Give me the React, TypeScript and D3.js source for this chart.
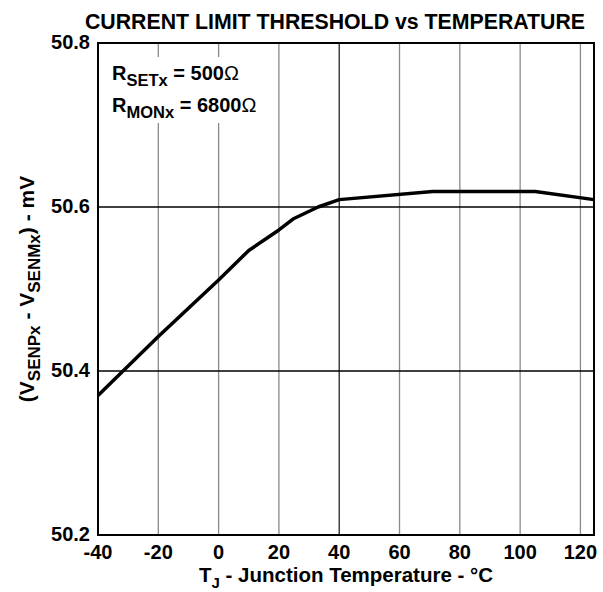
import React, { useEffect, useRef } from 'react';
import * as d3 from 'd3';

// T_J in °C
const temps = [-40, -20, 0, 10, 20, 25, 33, 40, 71, 105, 124.5];
// threshold in mV
const threshold = [50.37, 50.442, 50.511, 50.547, 50.572, 50.586, 50.6, 50.609, 50.619, 50.619, 50.609];

const xTicks = [-40, -20, 0, 20, 40, 60, 80, 100, 120];
const yTicks = [50.2, 50.4, 50.6, 50.8];

const FONT = "'Liberation Sans', Arial, Helvetica, sans-serif";

const App: React.FC = () => {
  const svgRef = useRef<SVGSVGElement>(null);

  useEffect(() => {
    const svg = d3.select(svgRef.current);
    svg.selectAll('*').remove();

    const width = 603;
    const height = 592;
    const margin = { top: 43, right: 9, bottom: 57, left: 98 };
    const innerW = width - margin.left - margin.right;
    const innerH = height - margin.top - margin.bottom;

    svg.attr('width', width).attr('height', height)
      .style('font-family', FONT);

    const x = d3.scaleLinear().domain([-40, 124.5]).range([0, innerW]);
    const y = d3.scaleLinear().domain([50.2, 50.8]).range([innerH, 0]);

    const g = svg.append('g')
      .attr('transform', `translate(${margin.left},${margin.top})`);

    // vertical grid
    g.append('g')
      .selectAll('line')
      .data(xTicks.filter(t => t > -40))
      .enter()
      .append('line')
      .attr('x1', d => x(d))
      .attr('x2', d => x(d))
      .attr('y1', 0)
      .attr('y2', innerH)
      .attr('stroke', d => (d === 40 ? '#222' : '#8a8a8a'))
      .attr('stroke-width', 1.3);

    // horizontal grid
    g.append('g')
      .selectAll('line')
      .data(yTicks.filter(t => t > 50.2 && t < 50.8))
      .enter()
      .append('line')
      .attr('x1', 0)
      .attr('x2', innerW)
      .attr('y1', d => y(d))
      .attr('y2', d => y(d))
      .attr('stroke', '#000')
      .attr('stroke-width', 1.3);

    // white box behind the annotation
    g.append('rect')
      .attr('x', 2)
      .attr('y', 14)
      .attr('width', 162)
      .attr('height', 66)
      .attr('fill', '#fff');

    // curve
    const line = d3.line<number>()
      .x((_, i) => x(temps[i]))
      .y(d => y(d));

    g.append('path')
      .datum(threshold)
      .attr('d', line)
      .attr('fill', 'none')
      .attr('stroke', '#000')
      .attr('stroke-width', 3.5)
      .attr('stroke-linejoin', 'round');

    // frame
    g.append('rect')
      .attr('x', 0)
      .attr('y', 0)
      .attr('width', innerW)
      .attr('height', innerH)
      .attr('fill', 'none')
      .attr('stroke', '#000')
      .attr('stroke-width', 2);

    // y tick labels
    g.append('g')
      .selectAll('text')
      .data(yTicks)
      .enter()
      .append('text')
      .attr('x', -8)
      .attr('y', d => y(d) + 6)
      .attr('text-anchor', 'end')
      .style('font-size', '20px')
      .style('font-weight', 'bold')
      .text(d => d.toFixed(1));

    // x tick labels
    g.append('g')
      .selectAll('text')
      .data(xTicks)
      .enter()
      .append('text')
      .attr('x', d => x(d))
      .attr('y', innerH + 24)
      .attr('text-anchor', 'middle')
      .style('font-size', '20px')
      .style('font-weight', 'bold')
      .text(d => String(d));

    // title
    svg.append('text')
      .attr('x', 335)
      .attr('y', 29)
      .attr('text-anchor', 'middle')
      .style('font-size', '21.3px')
      .style('font-weight', 'bold')
      .text('CURRENT LIMIT THRESHOLD vs TEMPERATURE');

    // x axis label
    const xl = svg.append('text')
      .attr('x', 346)
      .attr('y', 582)
      .attr('text-anchor', 'middle')
      .style('font-size', '20.5px')
      .style('font-weight', 'bold');
    xl.append('tspan').text('T');
    xl.append('tspan').attr('dy', 6).style('font-size', '15px').text('J');
    xl.append('tspan').attr('dy', -6).text(' - Junction Temperature - °C');

    // y axis label
    const yl = svg.append('text')
      .attr('transform', `translate(34,${margin.top + innerH / 2}) rotate(-90)`)
      .attr('text-anchor', 'middle')
      .style('font-size', '21px')
      .style('font-weight', 'bold');
    yl.append('tspan').text('(V');
    yl.append('tspan').attr('dy', 6).style('font-size', '17px').text('SENPx');
    yl.append('tspan').attr('dy', -6).text(' - V');
    yl.append('tspan').attr('dy', 6).style('font-size', '17px').text('SENMx');
    yl.append('tspan').attr('dy', -6).text(') - mV');

    // annotation
    const ann = [
      { sub: 'SETx', val: ' = 500', baseline: 80 },
      { sub: 'MONx', val: ' = 6800', baseline: 112 },
    ];
    ann.forEach(a => {
      const t = svg.append('text')
        .attr('x', 112)
        .attr('y', a.baseline)
        .style('font-size', '20px')
        .style('font-weight', 'bold');
      t.append('tspan').text('R');
      t.append('tspan').attr('dy', 6).style('font-size', '16.5px').text(a.sub);
      t.append('tspan').attr('dy', -6).text(a.val);
      t.append('tspan').style('font-weight', 'normal').text('Ω');
    });
  }, []);

  return (
    <div>
      <svg ref={svgRef} style={{ display: 'block', position: 'absolute', left: 0, top: 0, background: '#fff' }}></svg>
    </div>
  );
};

export default App;
